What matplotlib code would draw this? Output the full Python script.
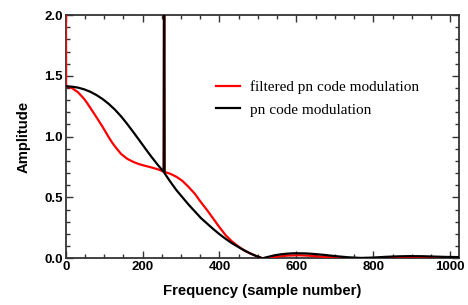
import numpy as np
import matplotlib
matplotlib.use('Agg')
import matplotlib.pyplot as plt
from matplotlib.ticker import MultipleLocator
from matplotlib.font_manager import FontProperties

# --- data (spikes at 0 and 256 go off the top) ---
x_black = [0, 16, 32, 48, 64, 80, 96, 112, 128, 144, 160, 176, 192, 208, 224, 240,
           255, 256, 257, 272, 288, 304, 320, 336, 352, 368, 384, 400, 416, 432,
           448, 464, 480, 496, 512, 528, 544, 560, 576, 592, 608, 624, 640, 672,
           704, 736, 768, 800, 832, 864, 896, 928, 960, 992, 1023]
y_black = [1.414, 1.411, 1.403, 1.389, 1.369, 1.342, 1.309, 1.269, 1.222, 1.167,
           1.104, 1.037, 0.968, 0.898, 0.83, 0.766, 0.71, 3.0, 0.70, 0.63, 0.56,
           0.50, 0.44, 0.385, 0.33, 0.285, 0.24, 0.198, 0.16, 0.125, 0.095, 0.066,
           0.04, 0.018, 0.0, 0.013, 0.025, 0.033, 0.038, 0.041, 0.041, 0.040,
           0.037, 0.028, 0.017, 0.008, 0.003, 0.006, 0.012, 0.016, 0.018, 0.017,
           0.014, 0.011, 0.010]

x_red = [0, 1, 16, 32, 48, 56, 64, 72, 80, 88, 96, 104, 112, 120, 128, 144, 160,
         176, 192, 208, 224, 240, 255, 256, 257, 272, 288, 304, 320, 336, 352, 368,
         384, 400, 416, 432, 448, 464, 480, 496, 512, 544, 576, 608, 640, 672, 704,
         736, 768, 832, 896, 960, 1023]
y_red = [3.0, 1.414, 1.40, 1.365, 1.31, 1.275, 1.237, 1.198, 1.16, 1.12, 1.08,
         1.038, 0.995, 0.955, 0.92, 0.858, 0.818, 0.792, 0.773, 0.759, 0.746,
         0.731, 0.713, 3.0, 0.71, 0.695, 0.67, 0.635, 0.585, 0.53, 0.46, 0.395,
         0.325, 0.255, 0.19, 0.14, 0.10, 0.065, 0.04, 0.018, 0.0, 0.012, 0.022,
         0.025, 0.020, 0.012, 0.006, 0.002, 0.0, 0.003, 0.004, 0.003, 0.003]

labels = ['filtered pn code modulation', 'pn code modulation']
colors = {'filtered': '#ff0000', 'plain': '#000000'}

# --- figure ---
fig = plt.figure(figsize=(4.68, 3.05), dpi=100)
ax = fig.add_axes([0.1404, 0.1531, 0.8404, 0.7977])

l_red, = ax.plot(x_red, y_red, color=colors['filtered'], lw=1.6, zorder=3)
l_blk, = ax.plot(x_black, y_black, color=colors['plain'], lw=1.6, zorder=4)

ax.set_xlim(0, 1023)
ax.set_ylim(0, 2.0)

tick_font = FontProperties(family='Liberation Sans', weight='bold', size=9.5)
ax.xaxis.set_major_locator(MultipleLocator(200))
ax.xaxis.set_minor_locator(MultipleLocator(50))
ax.yaxis.set_major_locator(MultipleLocator(0.5))
ax.yaxis.set_minor_locator(MultipleLocator(0.1))
ax.set_yticks([0, 0.5, 1.0, 1.5, 2.0], ['0.0', '0.5', '1.0', '1.5', '2.0'])
for lab in ax.get_xticklabels() + ax.get_yticklabels():
    lab.set_fontproperties(tick_font)

ax.tick_params(which='both', direction='in', top=True, right=True, width=1, color='#333333')
ax.tick_params(which='major', length=5, pad=2)
ax.tick_params(which='minor', length=3)
for sp in ax.spines.values():
    sp.set_linewidth(1.3)
    sp.set_color('#333333')

ax.set_xlabel('Frequency (sample number)', fontfamily='Liberation Sans',
              fontweight='bold', fontsize=10.7, labelpad=8)
ax.set_ylabel('Amplitude', fontfamily='Liberation Sans', fontweight='bold',
              fontsize=10.7, labelpad=10)

ax.legend(handles=[l_red, l_blk], labels=labels, loc='center left',
          bbox_to_anchor=(0.382, 0.657), frameon=False, borderpad=0,
          borderaxespad=0, handlelength=1.6, handletextpad=0.65,
          labelspacing=0.6, prop=dict(family='Liberation Serif', size=11))

fig.savefig('out.png', dpi=100)
